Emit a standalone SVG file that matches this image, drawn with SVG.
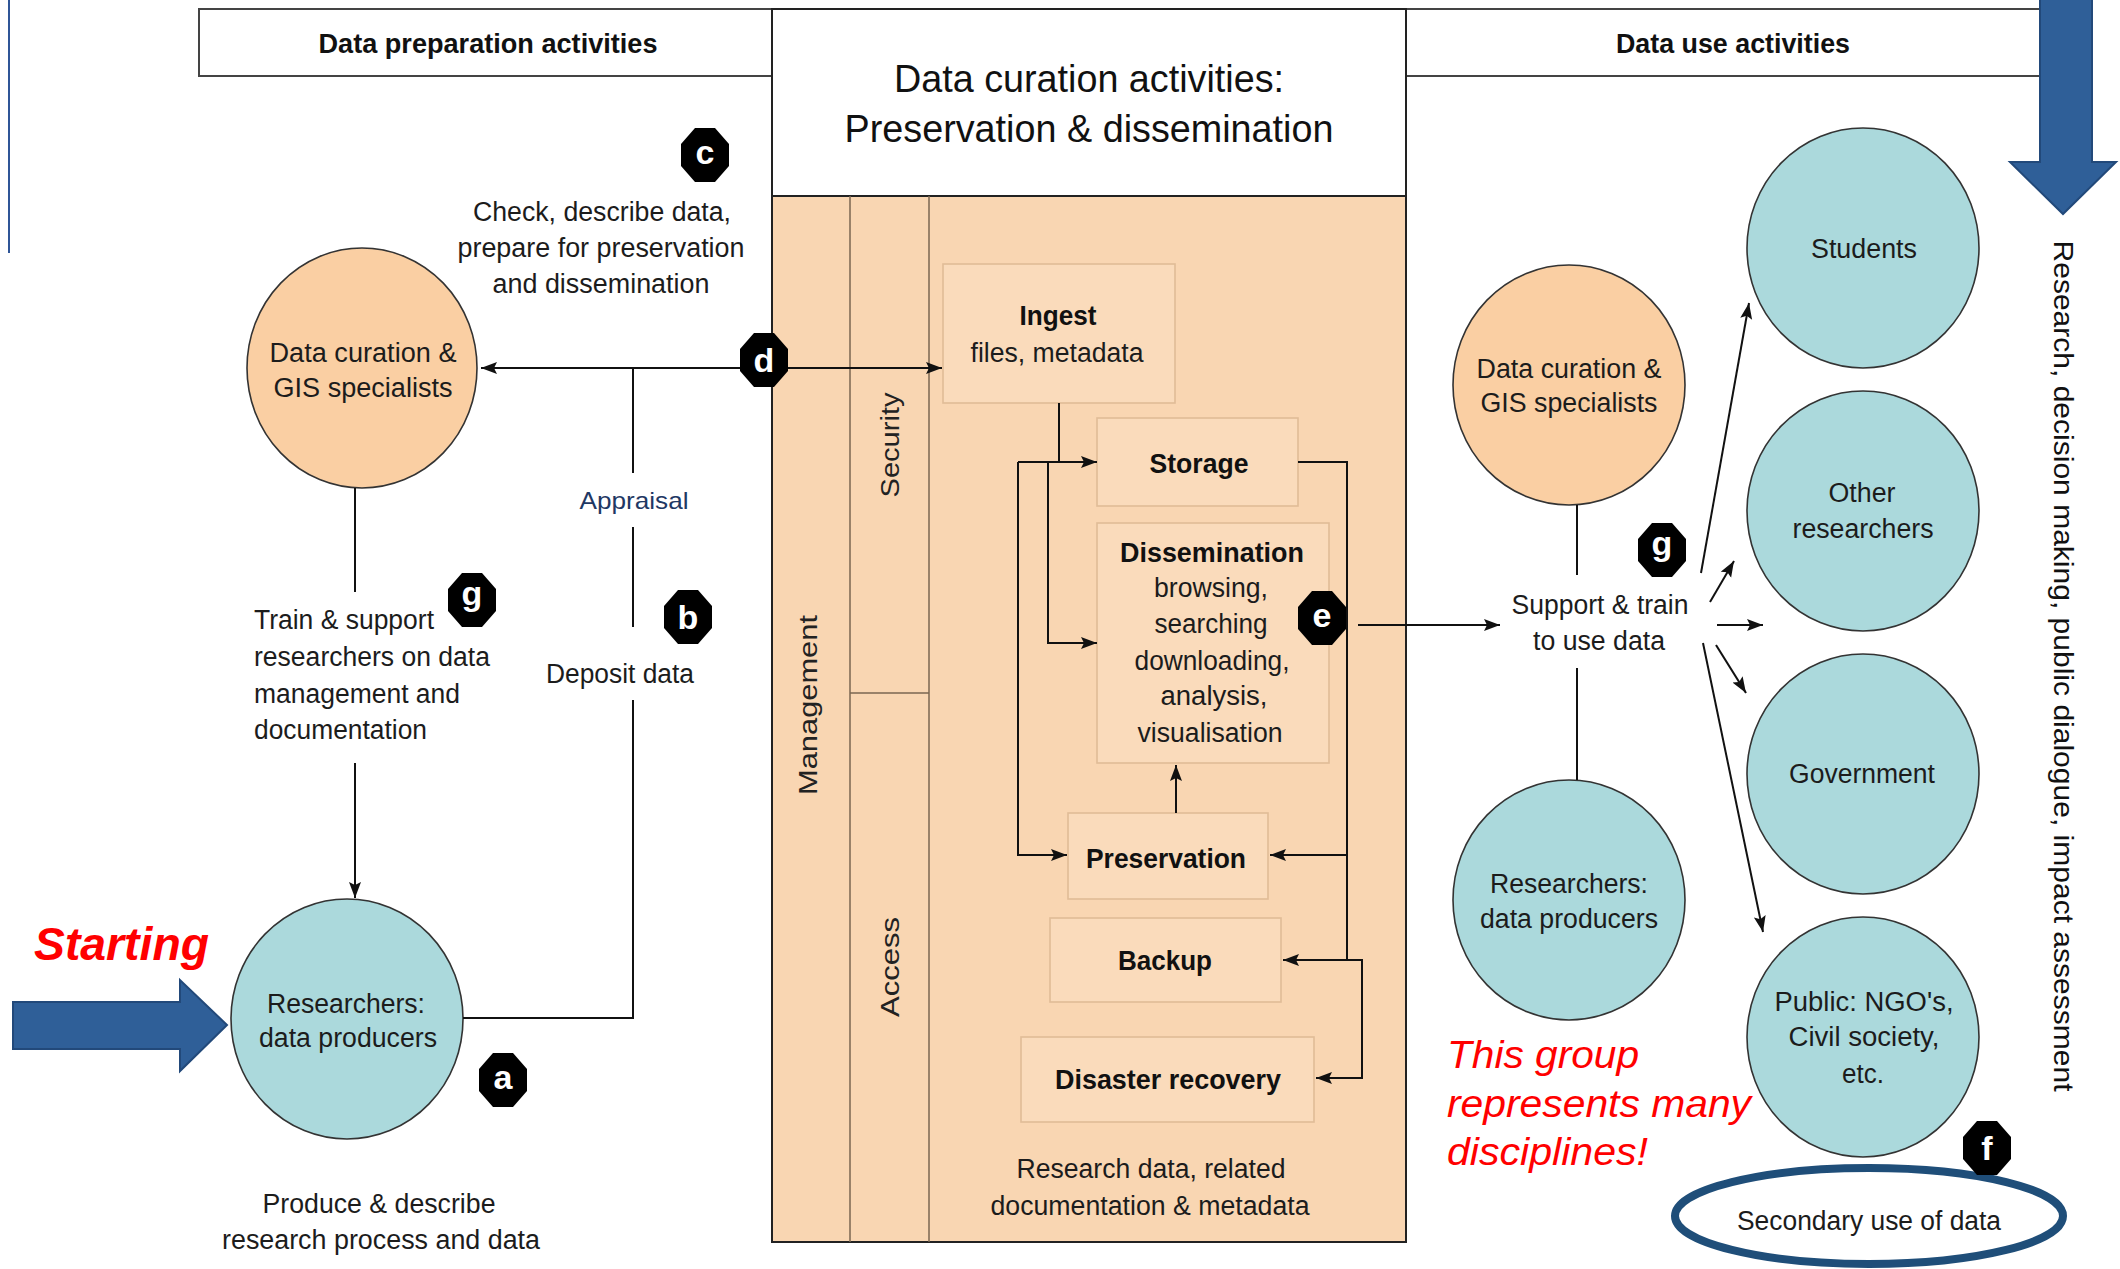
<svg xmlns="http://www.w3.org/2000/svg" width="2120" height="1269" viewBox="0 0 2120 1269">
<style>
.n{font-family:"Liberation Sans Narrow","Arial Narrow","Liberation Sans",Arial,sans-serif;font-size:27px;fill:#1c1c1c;text-anchor:middle}
.s{text-anchor:start}
.bd{font-weight:bold;font-size:28px;fill:#111}
.ttl{font-family:"Liberation Sans",Arial,sans-serif;font-size:38px;fill:#111;text-anchor:middle}
.rot{font-family:"Liberation Sans",Arial,sans-serif;font-size:25px;fill:#222;text-anchor:middle}
.side{font-family:"Liberation Sans",Arial,sans-serif;font-size:28px;fill:#111;text-anchor:middle}
.apr{font-family:"Liberation Sans",Arial,sans-serif;font-size:24px;fill:#1F3864;text-anchor:middle}
.red{font-family:"Liberation Sans",Arial,sans-serif;font-style:italic;fill:#FF0000}
.ln{stroke:#111;stroke-width:2;fill:none}
.ar{marker-end:url(#ah)}
.peach{fill:#FACFA3;stroke:#333;stroke-width:1.6}
.blue{fill:#ABD9DC;stroke:#333;stroke-width:1.6}
.box{fill:#FADBBB;stroke:#E0BC97;stroke-width:1.6}
.hdrbox{fill:#fff;stroke:#444;stroke-width:2}
.badge{fill:#000}
.bl{font-family:"Liberation Sans Narrow","Arial Narrow","Liberation Sans",Arial,sans-serif;font-weight:bold;font-size:34px;fill:#fff;text-anchor:middle}
.barrow{fill:#2F5F98;stroke:#22497A;stroke-width:2}
.col{stroke:#7a6650;stroke-width:1.5}
</style>
<defs>
<marker id="ah" markerUnits="userSpaceOnUse" markerWidth="18" markerHeight="14" refX="16" refY="7" orient="auto">
<path d="M0,1 L16,7 L0,13 L3,7 Z" fill="#111"/>
</marker>
<path id="oct" d="M-10,-27 L-24,-11 L-24,11 L-10,27 L10,27 L24,11 L24,-11 L10,-27 Z"/>
</defs>
<rect x="0" y="0" width="2120" height="1269" fill="#fff"/>
<line x1="9" y1="0" x2="9" y2="253" stroke="#2F5597" stroke-width="2"/>

<g id="headers">
<rect class="hdrbox" x="199" y="9" width="574" height="67"/>
<text class="n bd" x="488" y="53" textLength="339" lengthAdjust="spacingAndGlyphs">Data preparation activities</text>
<rect class="hdrbox" x="1406" y="9" width="660" height="67"/>
<text class="n bd" x="1733" y="53" textLength="234" lengthAdjust="spacingAndGlyphs">Data use activities</text>
</g>

<g id="curation-box">
<rect x="772" y="9" width="634" height="187" fill="#fff" stroke="#222" stroke-width="2"/>
<text class="ttl" x="1089" y="92" textLength="390" lengthAdjust="spacingAndGlyphs">Data curation activities:</text>
<text class="ttl" x="1089" y="142" textLength="489" lengthAdjust="spacingAndGlyphs">Preservation &amp; dissemination</text>
<rect x="772" y="196" width="634" height="1046" fill="#F9D6B2" stroke="#222" stroke-width="2"/>
<line class="col" x1="850" y1="196" x2="850" y2="1242"/>
<line class="col" x1="929" y1="196" x2="929" y2="1242"/>
<line class="col" x1="850" y1="693" x2="929" y2="693"/>
<text class="rot" transform="translate(817,705) rotate(-90)" textLength="180" lengthAdjust="spacingAndGlyphs">Management</text>
<text class="rot" transform="translate(899,445) rotate(-90)" textLength="105" lengthAdjust="spacingAndGlyphs">Security</text>
<text class="rot" transform="translate(899,967) rotate(-90)" textLength="100" lengthAdjust="spacingAndGlyphs">Access</text>
<text class="n" x="1151" y="1178" textLength="269" lengthAdjust="spacingAndGlyphs">Research data, related</text>
<text class="n" x="1150" y="1215" textLength="319" lengthAdjust="spacingAndGlyphs">documentation &amp; metadata</text>
</g>

<g id="ingest">
<rect class="box" x="943" y="264" width="232" height="139"/>
<text class="n bd" x="1058" y="325" textLength="77" lengthAdjust="spacingAndGlyphs">Ingest</text>
<text class="n" x="1057" y="362" textLength="173" lengthAdjust="spacingAndGlyphs">files, metadata</text>
</g>
<g id="storage">
<rect class="box" x="1097" y="418" width="201" height="88"/>
<text class="n bd" x="1199" y="473" textLength="99" lengthAdjust="spacingAndGlyphs">Storage</text>
</g>
<g id="dissemination">
<rect class="box" x="1097" y="523" width="232" height="240"/>
<text class="n bd" x="1212" y="562" textLength="184" lengthAdjust="spacingAndGlyphs">Dissemination</text>
<text class="n" x="1211" y="597" textLength="114" lengthAdjust="spacingAndGlyphs">browsing,</text>
<text class="n" x="1211" y="633" textLength="113" lengthAdjust="spacingAndGlyphs">searching</text>
<text class="n" x="1212" y="670" textLength="155" lengthAdjust="spacingAndGlyphs">downloading,</text>
<text class="n" x="1214" y="705" textLength="107" lengthAdjust="spacingAndGlyphs">analysis,</text>
<text class="n" x="1210" y="742" textLength="145" lengthAdjust="spacingAndGlyphs">visualisation</text>
</g>
<g id="preservation">
<rect class="box" x="1068" y="813" width="200" height="86"/>
<text class="n bd" x="1166" y="868" textLength="160" lengthAdjust="spacingAndGlyphs">Preservation</text>
</g>
<g id="backup">
<rect class="box" x="1050" y="918" width="231" height="84"/>
<text class="n bd" x="1165" y="970" textLength="94" lengthAdjust="spacingAndGlyphs">Backup</text>
</g>
<g id="disaster-recovery">
<rect class="box" x="1021" y="1037" width="293" height="85"/>
<text class="n bd" x="1168" y="1089" textLength="226" lengthAdjust="spacingAndGlyphs">Disaster recovery</text>
</g>

<g id="curators-left">
<ellipse class="peach" cx="362" cy="368" rx="115" ry="120"/>
<text class="n" x="363" y="362" textLength="187" lengthAdjust="spacingAndGlyphs">Data curation &amp;</text>
<text class="n" x="363" y="397" textLength="179" lengthAdjust="spacingAndGlyphs">GIS specialists</text>
</g>
<g id="producers-left">
<ellipse class="blue" cx="347" cy="1019" rx="116" ry="120"/>
<text class="n" x="346" y="1013" textLength="158" lengthAdjust="spacingAndGlyphs">Researchers:</text>
<text class="n" x="348" y="1047" textLength="178" lengthAdjust="spacingAndGlyphs">data producers</text>
</g>
<g id="curators-right">
<ellipse class="peach" cx="1569" cy="385" rx="116" ry="120"/>
<text class="n" x="1569" y="378" textLength="185" lengthAdjust="spacingAndGlyphs">Data curation &amp;</text>
<text class="n" x="1569" y="412" textLength="177" lengthAdjust="spacingAndGlyphs">GIS specialists</text>
</g>
<g id="producers-right">
<ellipse class="blue" cx="1569" cy="900" rx="116" ry="120"/>
<text class="n" x="1569" y="893" textLength="158" lengthAdjust="spacingAndGlyphs">Researchers:</text>
<text class="n" x="1569" y="928" textLength="178" lengthAdjust="spacingAndGlyphs">data producers</text>
</g>
<g id="students">
<ellipse class="blue" cx="1863" cy="248" rx="116" ry="120"/>
<text class="n" x="1864" y="258" textLength="106" lengthAdjust="spacingAndGlyphs">Students</text>
</g>
<g id="other-researchers">
<ellipse class="blue" cx="1863" cy="511" rx="116" ry="120"/>
<text class="n" x="1862" y="502" textLength="67" lengthAdjust="spacingAndGlyphs">Other</text>
<text class="n" x="1863" y="538" textLength="141" lengthAdjust="spacingAndGlyphs">researchers</text>
</g>
<g id="government">
<ellipse class="blue" cx="1863" cy="774" rx="116" ry="120"/>
<text class="n" x="1862" y="783" textLength="146" lengthAdjust="spacingAndGlyphs">Government</text>
</g>
<g id="public">
<ellipse class="blue" cx="1863" cy="1037" rx="116" ry="120"/>
<text class="n" x="1864" y="1011" textLength="179" lengthAdjust="spacingAndGlyphs">Public: NGO's,</text>
<text class="n" x="1864" y="1046" textLength="151" lengthAdjust="spacingAndGlyphs">Civil society,</text>
<text class="n" x="1863" y="1083" textLength="42" lengthAdjust="spacingAndGlyphs">etc.</text>
</g>
<g id="secondary-use">
<ellipse cx="1869" cy="1216" rx="194" ry="48" fill="#fff" stroke="#1F4E79" stroke-width="8"/>
<text class="n" x="1869" y="1230" textLength="264" lengthAdjust="spacingAndGlyphs">Secondary use of data</text>
</g>

<g id="connectors">
<path class="ln ar" d="M765,368 H481"/>
<path class="ln ar" d="M765,368 H942"/>
<path class="ln" d="M463,1018 H633 V700 M633,627 V527 M633,473 V368"/>
<path class="ln" d="M355,488 V592"/>
<path class="ln ar" d="M355,763 V898"/>
<path class="ln" d="M1059,403 V462"/>
<path class="ln ar" d="M1018,462 H1097"/>
<path class="ln ar" d="M1048,462 V643 H1097"/>
<path class="ln ar" d="M1018,462 V855 H1067"/>
<path class="ln" d="M1298,462 H1347 V960"/>
<path class="ln ar" d="M1347,855 H1270"/>
<path class="ln ar" d="M1347,960 H1283"/>
<path class="ln ar" d="M1347,960 H1362 V1078 H1316"/>
<path class="ln ar" d="M1176,813 V765"/>
<path class="ln ar" d="M1358,625 H1500"/>
<path class="ln" d="M1577,505 V575 M1577,668 V780"/>
<path class="ln ar" d="M1701,573 L1749,303"/>
<path class="ln ar" d="M1710,602 L1734,561"/>
<path class="ln ar" d="M1717,625 H1763"/>
<path class="ln ar" d="M1716,645 L1746,693"/>
<path class="ln ar" d="M1703,643 L1763,932"/>
</g>

<g id="labels">
<text class="n" x="602" y="221" textLength="258" lengthAdjust="spacingAndGlyphs">Check, describe data,</text>
<text class="n" x="601" y="257" textLength="287" lengthAdjust="spacingAndGlyphs">prepare for preservation</text>
<text class="n" x="601" y="293" textLength="217" lengthAdjust="spacingAndGlyphs">and dissemination</text>
<text class="apr" x="634" y="509" textLength="109" lengthAdjust="spacingAndGlyphs">Appraisal</text>
<text class="n" x="620" y="683" textLength="148" lengthAdjust="spacingAndGlyphs">Deposit data</text>
<text class="n s" x="254" y="629" textLength="180" lengthAdjust="spacingAndGlyphs">Train &amp; support</text>
<text class="n s" x="254" y="666" textLength="236" lengthAdjust="spacingAndGlyphs">researchers on data</text>
<text class="n s" x="254" y="703" textLength="206" lengthAdjust="spacingAndGlyphs">management and</text>
<text class="n s" x="254" y="739" textLength="173" lengthAdjust="spacingAndGlyphs">documentation</text>
<text class="n" x="379" y="1213" textLength="233" lengthAdjust="spacingAndGlyphs">Produce &amp; describe</text>
<text class="n" x="381" y="1249" textLength="318" lengthAdjust="spacingAndGlyphs">research process and data</text>
<text class="n" x="1600" y="614" textLength="177" lengthAdjust="spacingAndGlyphs">Support &amp; train</text>
<text class="n" x="1599" y="650" textLength="132" lengthAdjust="spacingAndGlyphs">to use data</text>
<text class="side" transform="translate(2054,666) rotate(90)" textLength="851" lengthAdjust="spacingAndGlyphs">Research, decision making, public dialogue, impact assessment</text>
</g>

<g id="badges">
<g transform="translate(705,155)"><use href="#oct" class="badge"/><text class="bl" y="9">c</text></g>
<g transform="translate(764,360)"><use href="#oct" class="badge"/><text class="bl" y="12">d</text></g>
<g transform="translate(688,617)"><use href="#oct" class="badge"/><text class="bl" y="12">b</text></g>
<g transform="translate(472,600)"><use href="#oct" class="badge"/><text class="bl" y="5">g</text></g>
<g transform="translate(503,1080)"><use href="#oct" class="badge"/><text class="bl" y="9">a</text></g>
<g transform="translate(1322,618)"><use href="#oct" class="badge"/><text class="bl" y="9">e</text></g>
<g transform="translate(1662,550)"><use href="#oct" class="badge"/><text class="bl" y="5">g</text></g>
<g transform="translate(1987,1148)"><use href="#oct" class="badge"/><text class="bl" y="12">f</text></g>
</g>

<g id="annotations">
<polygon class="barrow" points="13,1002 180,1002 180,980 227,1025 180,1071 180,1049 13,1049"/>
<text class="red" x="34" y="960" font-size="46" font-weight="bold" textLength="175" lengthAdjust="spacingAndGlyphs">Starting</text>
<polygon class="barrow" points="2040,-3 2092,-3 2092,162 2116,162 2063,214 2010,162 2040,162"/>
<text class="red" x="1447" y="1068" font-size="39" textLength="192" lengthAdjust="spacingAndGlyphs">This group</text>
<text class="red" x="1447" y="1117" font-size="39" textLength="304" lengthAdjust="spacingAndGlyphs">represents many</text>
<text class="red" x="1447" y="1165" font-size="39" textLength="201" lengthAdjust="spacingAndGlyphs">disciplines!</text>
</g>
</svg>
